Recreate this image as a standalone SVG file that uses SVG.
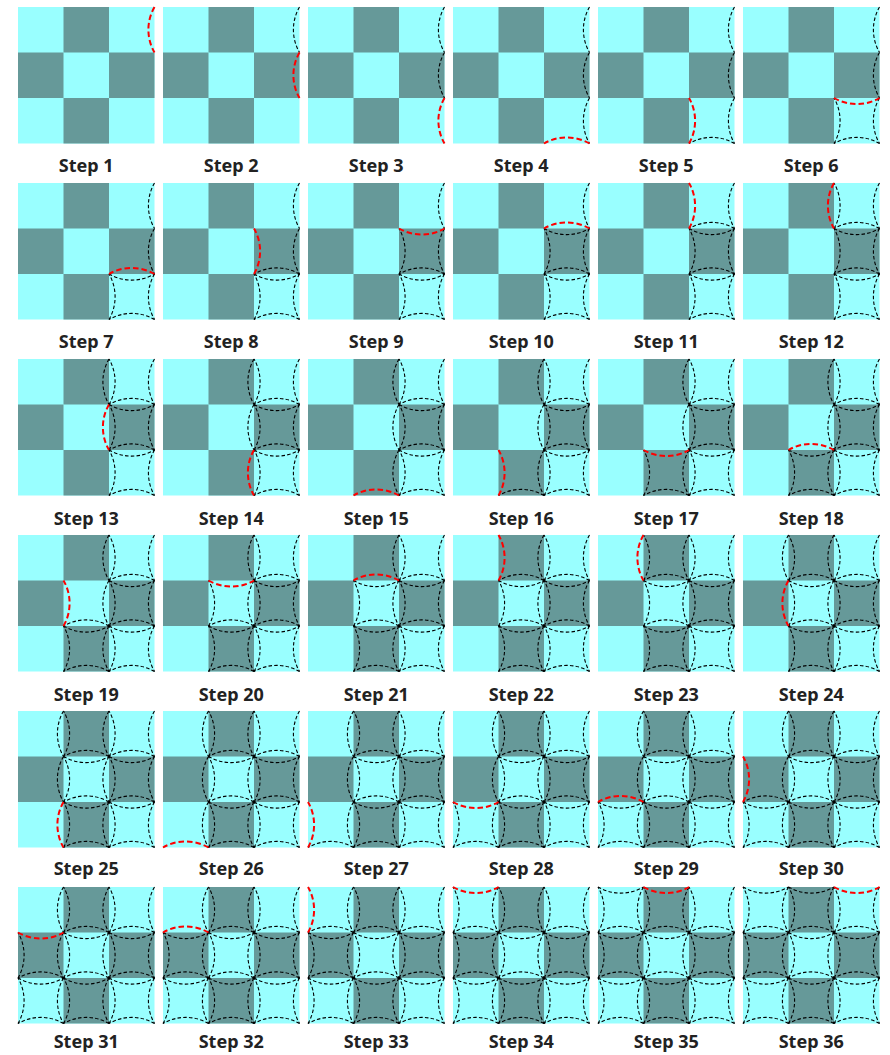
<svg xmlns="http://www.w3.org/2000/svg" width="890" height="1055" viewBox="0 0 890 1055">
<style>
.k{fill:none;stroke:#000;stroke-width:1.1;stroke-dasharray:3.5 2.2}
.r{fill:none;stroke:#f00;stroke-width:2;stroke-dasharray:5.5 3}
.lbl{font-family:"Noto Sans","DejaVu Sans",sans-serif;font-weight:bold;font-size:18px;fill:#222;text-anchor:middle}
.cy{fill:#99ffff}
.dk{fill:#669999}
</style>
<defs>
<g id="board"><rect class="cy" width="136.5" height="136.5"/><rect class="dk" x="45.5" y="0" width="45.5" height="45.5"/><rect class="dk" x="0" y="45.5" width="45.5" height="45.5"/><rect class="dk" x="91" y="45.5" width="45.5" height="45.5"/><rect class="dk" x="45.5" y="91" width="45.5" height="45.5"/></g>
<path id="a1" d="M136.5,0A45.5,45.5 0 0 0 136.5,45.5"/>
<path id="a2" d="M136.5,45.5A45.5,45.5 0 0 0 136.5,91"/>
<path id="a3" d="M136.5,91A45.5,45.5 0 0 0 136.5,136.5"/>
<path id="a4" d="M136.5,136.5A45.5,45.5 0 0 0 91,136.5"/>
<path id="a5" d="M91,136.5A45.5,45.5 0 0 0 91,91"/>
<path id="a6" d="M91,91A45.5,45.5 0 0 0 136.5,91"/>
<path id="a7" d="M136.5,91A45.5,45.5 0 0 0 91,91"/>
<path id="a8" d="M91,91A45.5,45.5 0 0 0 91,45.5"/>
<path id="a9" d="M91,45.5A45.5,45.5 0 0 0 136.5,45.5"/>
<path id="a10" d="M136.5,45.5A45.5,45.5 0 0 0 91,45.5"/>
<path id="a11" d="M91,45.5A45.5,45.5 0 0 0 91,0"/>
<path id="a12" d="M91,0A45.5,45.5 0 0 0 91,45.5"/>
<path id="a13" d="M91,45.5A45.5,45.5 0 0 0 91,91"/>
<path id="a14" d="M91,91A45.5,45.5 0 0 0 91,136.5"/>
<path id="a15" d="M91,136.5A45.5,45.5 0 0 0 45.5,136.5"/>
<path id="a16" d="M45.5,136.5A45.5,45.5 0 0 0 45.5,91"/>
<path id="a17" d="M45.5,91A45.5,45.5 0 0 0 91,91"/>
<path id="a18" d="M91,91A45.5,45.5 0 0 0 45.5,91"/>
<path id="a19" d="M45.5,91A45.5,45.5 0 0 0 45.5,45.5"/>
<path id="a20" d="M45.5,45.5A45.5,45.5 0 0 0 91,45.5"/>
<path id="a21" d="M91,45.5A45.5,45.5 0 0 0 45.5,45.5"/>
<path id="a22" d="M45.5,45.5A45.5,45.5 0 0 0 45.5,0"/>
<path id="a23" d="M45.5,0A45.5,45.5 0 0 0 45.5,45.5"/>
<path id="a24" d="M45.5,45.5A45.5,45.5 0 0 0 45.5,91"/>
<path id="a25" d="M45.5,91A45.5,45.5 0 0 0 45.5,136.5"/>
<path id="a26" d="M45.5,136.5A45.5,45.5 0 0 0 0,136.5"/>
<path id="a27" d="M0,136.5A45.5,45.5 0 0 0 0,91"/>
<path id="a28" d="M0,91A45.5,45.5 0 0 0 45.5,91"/>
<path id="a29" d="M45.5,91A45.5,45.5 0 0 0 0,91"/>
<path id="a30" d="M0,91A45.5,45.5 0 0 0 0,45.5"/>
<path id="a31" d="M0,45.5A45.5,45.5 0 0 0 45.5,45.5"/>
<path id="a32" d="M45.5,45.5A45.5,45.5 0 0 0 0,45.5"/>
<path id="a33" d="M0,45.5A45.5,45.5 0 0 0 0,0"/>
<path id="a34" d="M0,0A45.5,45.5 0 0 0 45.5,0"/>
<path id="a35" d="M45.5,0A45.5,45.5 0 0 0 91,0"/>
<path id="a36" d="M91,0A45.5,45.5 0 0 0 136.5,0"/>
<g id="b1"><use href="#a1"/><use href="#a2"/><use href="#a3"/><use href="#a4"/><use href="#a5"/><use href="#a6"/></g>
<g id="b2"><use href="#a7"/><use href="#a8"/><use href="#a9"/><use href="#a10"/><use href="#a11"/><use href="#a12"/></g>
<g id="b3"><use href="#a13"/><use href="#a14"/><use href="#a15"/><use href="#a16"/><use href="#a17"/><use href="#a18"/></g>
<g id="b4"><use href="#a19"/><use href="#a20"/><use href="#a21"/><use href="#a22"/><use href="#a23"/><use href="#a24"/></g>
<g id="b5"><use href="#a25"/><use href="#a26"/><use href="#a27"/><use href="#a28"/><use href="#a29"/><use href="#a30"/></g>
</defs>

<g id="step1" transform="translate(18,7)"><use href="#board"/><use href="#a1" class="r"/><text class="lbl" x="68.25" y="165">Step 1</text></g>
<g id="step2" transform="translate(163,7)"><use href="#board"/><g class="k"><use href="#a1"/></g><use href="#a2" class="r"/><text class="lbl" x="68.25" y="165">Step 2</text></g>
<g id="step3" transform="translate(308,7)"><use href="#board"/><g class="k"><use href="#a1"/><use href="#a2"/></g><use href="#a3" class="r"/><text class="lbl" x="68.25" y="165">Step 3</text></g>
<g id="step4" transform="translate(453,7)"><use href="#board"/><g class="k"><use href="#a1"/><use href="#a2"/><use href="#a3"/></g><use href="#a4" class="r"/><text class="lbl" x="68.25" y="165">Step 4</text></g>
<g id="step5" transform="translate(598,7)"><use href="#board"/><g class="k"><use href="#a1"/><use href="#a2"/><use href="#a3"/><use href="#a4"/></g><use href="#a5" class="r"/><text class="lbl" x="68.25" y="165">Step 5</text></g>
<g id="step6" transform="translate(743,7)"><use href="#board"/><g class="k"><use href="#a1"/><use href="#a2"/><use href="#a3"/><use href="#a4"/><use href="#a5"/></g><use href="#a6" class="r"/><text class="lbl" x="68.25" y="165">Step 6</text></g>

<g id="step7" transform="translate(18,183)"><use href="#board"/><g class="k"><use href="#b1"/></g><use href="#a7" class="r"/><text class="lbl" x="68.25" y="165">Step 7</text></g>
<g id="step8" transform="translate(163,183)"><use href="#board"/><g class="k"><use href="#b1"/><use href="#a7"/></g><use href="#a8" class="r"/><text class="lbl" x="68.25" y="165">Step 8</text></g>
<g id="step9" transform="translate(308,183)"><use href="#board"/><g class="k"><use href="#b1"/><use href="#a7"/><use href="#a8"/></g><use href="#a9" class="r"/><text class="lbl" x="68.25" y="165">Step 9</text></g>
<g id="step10" transform="translate(453,183)"><use href="#board"/><g class="k"><use href="#b1"/><use href="#a7"/><use href="#a8"/><use href="#a9"/></g><use href="#a10" class="r"/><text class="lbl" x="68.25" y="165">Step 10</text></g>
<g id="step11" transform="translate(598,183)"><use href="#board"/><g class="k"><use href="#b1"/><use href="#a7"/><use href="#a8"/><use href="#a9"/><use href="#a10"/></g><use href="#a11" class="r"/><text class="lbl" x="68.25" y="165">Step 11</text></g>
<g id="step12" transform="translate(743,183)"><use href="#board"/><g class="k"><use href="#b1"/><use href="#a7"/><use href="#a8"/><use href="#a9"/><use href="#a10"/><use href="#a11"/></g><use href="#a12" class="r"/><text class="lbl" x="68.25" y="165">Step 12</text></g>

<g id="step13" transform="translate(18,359)"><use href="#board"/><g class="k"><use href="#b1"/><use href="#b2"/></g><use href="#a13" class="r"/><text class="lbl" x="68.25" y="166">Step 13</text></g>
<g id="step14" transform="translate(163,359)"><use href="#board"/><g class="k"><use href="#b1"/><use href="#b2"/><use href="#a13"/></g><use href="#a14" class="r"/><text class="lbl" x="68.25" y="166">Step 14</text></g>
<g id="step15" transform="translate(308,359)"><use href="#board"/><g class="k"><use href="#b1"/><use href="#b2"/><use href="#a13"/><use href="#a14"/></g><use href="#a15" class="r"/><text class="lbl" x="68.25" y="166">Step 15</text></g>
<g id="step16" transform="translate(453,359)"><use href="#board"/><g class="k"><use href="#b1"/><use href="#b2"/><use href="#a13"/><use href="#a14"/><use href="#a15"/></g><use href="#a16" class="r"/><text class="lbl" x="68.25" y="166">Step 16</text></g>
<g id="step17" transform="translate(598,359)"><use href="#board"/><g class="k"><use href="#b1"/><use href="#b2"/><use href="#a13"/><use href="#a14"/><use href="#a15"/><use href="#a16"/></g><use href="#a17" class="r"/><text class="lbl" x="68.25" y="166">Step 17</text></g>
<g id="step18" transform="translate(743,359)"><use href="#board"/><g class="k"><use href="#b1"/><use href="#b2"/><use href="#a13"/><use href="#a14"/><use href="#a15"/><use href="#a16"/><use href="#a17"/></g><use href="#a18" class="r"/><text class="lbl" x="68.25" y="166">Step 18</text></g>

<g id="step19" transform="translate(18,535)"><use href="#board"/><g class="k"><use href="#b1"/><use href="#b2"/><use href="#b3"/></g><use href="#a19" class="r"/><text class="lbl" x="68.25" y="165.5">Step 19</text></g>
<g id="step20" transform="translate(163,535)"><use href="#board"/><g class="k"><use href="#b1"/><use href="#b2"/><use href="#b3"/><use href="#a19"/></g><use href="#a20" class="r"/><text class="lbl" x="68.25" y="165.5">Step 20</text></g>
<g id="step21" transform="translate(308,535)"><use href="#board"/><g class="k"><use href="#b1"/><use href="#b2"/><use href="#b3"/><use href="#a19"/><use href="#a20"/></g><use href="#a21" class="r"/><text class="lbl" x="68.25" y="165.5">Step 21</text></g>
<g id="step22" transform="translate(453,535)"><use href="#board"/><g class="k"><use href="#b1"/><use href="#b2"/><use href="#b3"/><use href="#a19"/><use href="#a20"/><use href="#a21"/></g><use href="#a22" class="r"/><text class="lbl" x="68.25" y="165.5">Step 22</text></g>
<g id="step23" transform="translate(598,535)"><use href="#board"/><g class="k"><use href="#b1"/><use href="#b2"/><use href="#b3"/><use href="#a19"/><use href="#a20"/><use href="#a21"/><use href="#a22"/></g><use href="#a23" class="r"/><text class="lbl" x="68.25" y="165.5">Step 23</text></g>
<g id="step24" transform="translate(743,535)"><use href="#board"/><g class="k"><use href="#b1"/><use href="#b2"/><use href="#b3"/><use href="#a19"/><use href="#a20"/><use href="#a21"/><use href="#a22"/><use href="#a23"/></g><use href="#a24" class="r"/><text class="lbl" x="68.25" y="165.5">Step 24</text></g>

<g id="step25" transform="translate(18,711)"><use href="#board"/><g class="k"><use href="#b1"/><use href="#b2"/><use href="#b3"/><use href="#b4"/></g><use href="#a25" class="r"/><text class="lbl" x="68.25" y="163.5">Step 25</text></g>
<g id="step26" transform="translate(163,711)"><use href="#board"/><g class="k"><use href="#b1"/><use href="#b2"/><use href="#b3"/><use href="#b4"/><use href="#a25"/></g><use href="#a26" class="r"/><text class="lbl" x="68.25" y="163.5">Step 26</text></g>
<g id="step27" transform="translate(308,711)"><use href="#board"/><g class="k"><use href="#b1"/><use href="#b2"/><use href="#b3"/><use href="#b4"/><use href="#a25"/><use href="#a26"/></g><use href="#a27" class="r"/><text class="lbl" x="68.25" y="163.5">Step 27</text></g>
<g id="step28" transform="translate(453,711)"><use href="#board"/><g class="k"><use href="#b1"/><use href="#b2"/><use href="#b3"/><use href="#b4"/><use href="#a25"/><use href="#a26"/><use href="#a27"/></g><use href="#a28" class="r"/><text class="lbl" x="68.25" y="163.5">Step 28</text></g>
<g id="step29" transform="translate(598,711)"><use href="#board"/><g class="k"><use href="#b1"/><use href="#b2"/><use href="#b3"/><use href="#b4"/><use href="#a25"/><use href="#a26"/><use href="#a27"/><use href="#a28"/></g><use href="#a29" class="r"/><text class="lbl" x="68.25" y="163.5">Step 29</text></g>
<g id="step30" transform="translate(743,711)"><use href="#board"/><g class="k"><use href="#b1"/><use href="#b2"/><use href="#b3"/><use href="#b4"/><use href="#a25"/><use href="#a26"/><use href="#a27"/><use href="#a28"/><use href="#a29"/></g><use href="#a30" class="r"/><text class="lbl" x="68.25" y="163.5">Step 30</text></g>

<g id="step31" transform="translate(18,887)"><use href="#board"/><g class="k"><use href="#b1"/><use href="#b2"/><use href="#b3"/><use href="#b4"/><use href="#b5"/></g><use href="#a31" class="r"/><text class="lbl" x="68.25" y="161">Step 31</text></g>
<g id="step32" transform="translate(163,887)"><use href="#board"/><g class="k"><use href="#b1"/><use href="#b2"/><use href="#b3"/><use href="#b4"/><use href="#b5"/><use href="#a31"/></g><use href="#a32" class="r"/><text class="lbl" x="68.25" y="161">Step 32</text></g>
<g id="step33" transform="translate(308,887)"><use href="#board"/><g class="k"><use href="#b1"/><use href="#b2"/><use href="#b3"/><use href="#b4"/><use href="#b5"/><use href="#a31"/><use href="#a32"/></g><use href="#a33" class="r"/><text class="lbl" x="68.25" y="161">Step 33</text></g>
<g id="step34" transform="translate(453,887)"><use href="#board"/><g class="k"><use href="#b1"/><use href="#b2"/><use href="#b3"/><use href="#b4"/><use href="#b5"/><use href="#a31"/><use href="#a32"/><use href="#a33"/></g><use href="#a34" class="r"/><text class="lbl" x="68.25" y="161">Step 34</text></g>
<g id="step35" transform="translate(598,887)"><use href="#board"/><g class="k"><use href="#b1"/><use href="#b2"/><use href="#b3"/><use href="#b4"/><use href="#b5"/><use href="#a31"/><use href="#a32"/><use href="#a33"/><use href="#a34"/></g><use href="#a35" class="r"/><text class="lbl" x="68.25" y="161">Step 35</text></g>
<g id="step36" transform="translate(743,887)"><use href="#board"/><g class="k"><use href="#b1"/><use href="#b2"/><use href="#b3"/><use href="#b4"/><use href="#b5"/><use href="#a31"/><use href="#a32"/><use href="#a33"/><use href="#a34"/><use href="#a35"/></g><use href="#a36" class="r"/><text class="lbl" x="68.25" y="161">Step 36</text></g>
</svg>
